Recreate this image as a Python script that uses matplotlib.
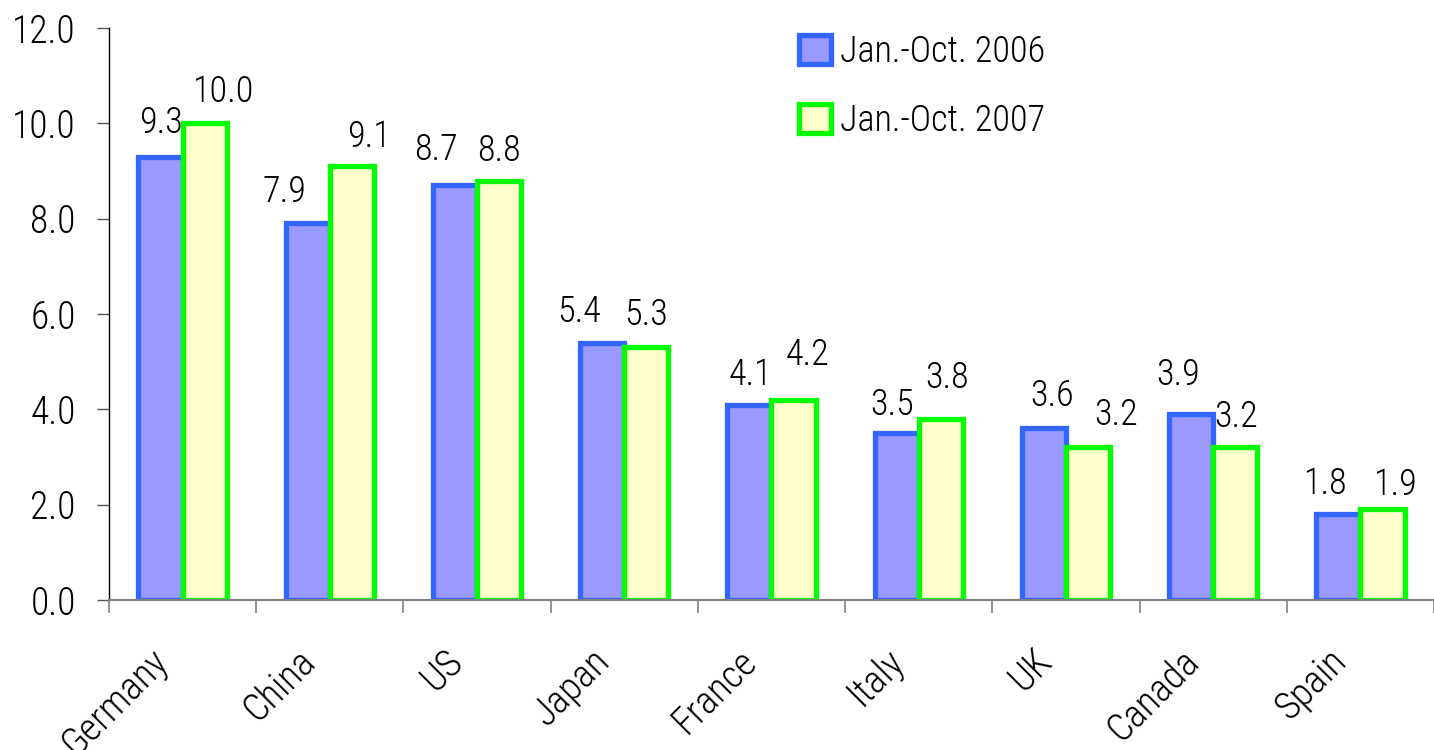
import numpy as np
import matplotlib
matplotlib.use("Agg")
import matplotlib.pyplot as plt
from matplotlib.patches import Patch
from matplotlib.transforms import ScaledTranslation

plt.rcParams["font.family"] = ["Roboto Condensed", "DejaVu Sans"]
plt.rcParams["font.weight"] = "light"

countries = ["Germany", "China", "US", "Japan", "France", "Italy", "UK", "Canada", "Spain"]
v2006 = [9.3, 7.9, 8.7, 5.4, 4.1, 3.5, 3.6, 3.9, 1.8]
v2007 = [10.0, 9.1, 8.8, 5.3, 4.2, 3.8, 3.2, 3.2, 1.9]
series_names = ["Jan.-Oct. 2006", "Jan.-Oct. 2007"]

# value-label nudges (pixels): horizontal shift and height of baseline above bar top
dx06 = [0, -23, -19, -23, 1, -5, 8, -13, -13]
dy06 = [24, 21, 25, 21, 20, 18, 22, 29, 20]
dx07 = [18, 17, 0, 0, 14, 6, 28, 1, 12]
dy07 = [21, 19, 20, 22, 35, 31, 22, 20, 14]

C06_FACE, C06_EDGE = "#9999FF", "#3366FF"
C07_FACE, C07_EDGE = "#FFFFCC", "#00FF00"
FS = 26
PX = 0.72  # points per pixel at dpi 100

fig = plt.figure(figsize=(14.34, 7.5), dpi=100)
ax = fig.add_axes([109 / 1434, 150 / 750, (1434 - 109) / 1434, 572 / 750])

x = np.arange(len(countries))
w = 0.3
ax.bar(x - w / 2, v2006, w, color=C06_FACE, edgecolor=C06_EDGE, linewidth=3.8)
ax.bar(x + w / 2, v2007, w, color=C07_FACE, edgecolor=C07_EDGE, linewidth=3.8)

for xi, v, dx, dy in zip(x - w / 2, v2006, dx06, dy06):
    ax.annotate(f"{v:.1f}", (xi, v), xytext=(dx * PX, dy * PX), textcoords="offset points",
                ha="center", va="baseline", fontsize=FS)
for xi, v, dx, dy in zip(x + w / 2, v2007, dx07, dy07):
    ax.annotate(f"{v:.1f}", (xi, v), xytext=(dx * PX, dy * PX), textcoords="offset points",
                ha="center", va="baseline", fontsize=FS)

ax.set_ylim(0, 12)
ax.set_xlim(-0.5, 8.39)
yt = np.arange(0, 12.1, 2)
ax.set_yticks(yt)
ax.set_yticklabels([f"{t:.1f}" for t in yt], fontsize=27)
ax.tick_params(axis="y", length=9, width=1, pad=15, color="#555555")

ax.set_xticks(x)
ax.set_xticklabels(countries, fontsize=27.5, rotation=45, ha="right", va="center",
                   rotation_mode="anchor")
ax.tick_params(axis="x", which="major", length=0, pad=40)
shift = ScaledTranslation(-20 / 100, 0, fig.dpi_scale_trans)
for lab in ax.get_xticklabels():
    lab.set_transform(lab.get_transform() + shift)
ax.set_xticks(np.arange(-0.5, 8.6, 1), minor=True)
ax.tick_params(axis="x", which="minor", length=9, width=1.2, color="#808080")

for s in ("top", "right"):
    ax.spines[s].set_visible(False)
ax.spines["left"].set_color("black")
ax.spines["left"].set_linewidth(1)
ax.spines["bottom"].set_color("#808080")
ax.spines["bottom"].set_linewidth(1.5)

handles = [Patch(facecolor=C06_FACE, edgecolor=C06_EDGE, linewidth=3.8),
           Patch(facecolor=C07_FACE, edgecolor=C07_EDGE, linewidth=3.8)]
fig.legend(handles, series_names, loc="upper left", bbox_to_anchor=(781 / 1434, 1 - 16 / 750),
           frameon=False, fontsize=FS, handlelength=0.88, handleheight=0.85,
           handletextpad=0.25, labelspacing=0.92, borderpad=0)

fig.savefig("out.png", dpi=100)
